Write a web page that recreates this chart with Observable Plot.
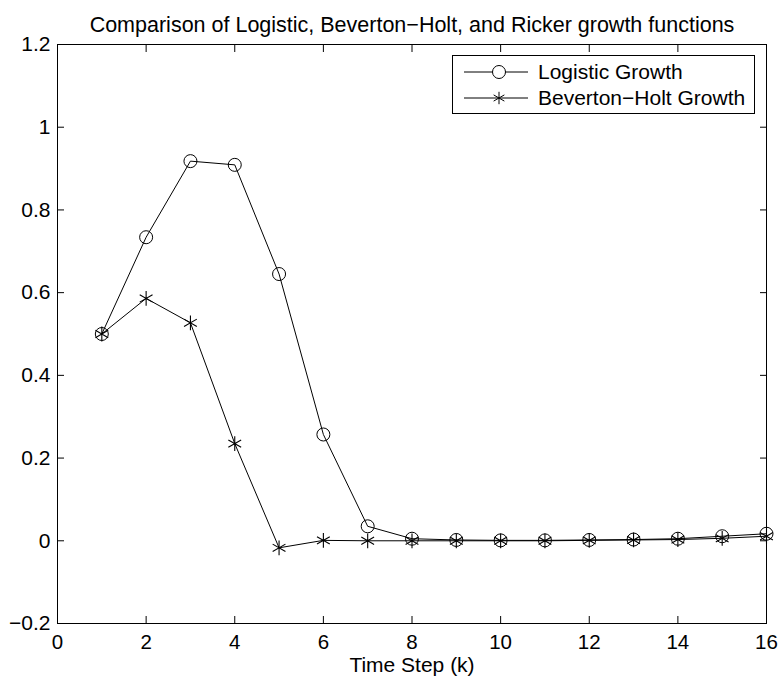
<!DOCTYPE html>
<html><head><meta charset="utf-8">
<script src="https://cdn.jsdelivr.net/npm/d3@7"></script>
<script src="https://cdn.jsdelivr.net/npm/@observablehq/plot@0.6"></script>
<style>
body{margin:0;background:#fff}
#wrap{position:relative;width:778px;height:679px;font-family:"Liberation Sans",Arial,Helvetica,sans-serif}
#legend{position:absolute;left:452px;top:55px}
</style>
</head><body><div id="wrap"></div>
<script>
const titleText = "Comparison of Logistic, Beverton\u2212Holt, and Ricker growth functions";
const xLabel = "Time Step (k)";
const seriesNames = ["Logistic Growth", "Beverton\u2212Holt Growth"];
const steps = [1, 2, 3, 4, 5, 6, 7, 8, 9, 10, 11, 12, 13, 14, 15, 16];
const logistic = [0.5, 0.734, 0.918, 0.909, 0.645, 0.257, 0.035, 0.005, 0.002, 0.001, 0.001, 0.002, 0.003, 0.005, 0.011, 0.017];
const bevertonHolt = [0.5, 0.586, 0.527, 0.235, -0.017, 0.001, 0.0, 0.0, 0.0, 0.0, 0.0, 0.001, 0.002, 0.003, 0.006, 0.011];
const xTicks = [0, 2, 4, 6, 8, 10, 12, 14, 16];
const yTicks = [-0.2, 0, 0.2, 0.4, 0.6, 0.8, 1, 1.2];
const yTickLabels = ["\u22120.2", "0", "0.2", "0.4", "0.6", "0.8", "1", "1.2"];

const logData = steps.map((k, i) => ({k, v: logistic[i], s: seriesNames[0]}));
const bhData = steps.map((k, i) => ({k, v: bevertonHolt[i], s: seriesNames[1]}));

const FONT = 21;
const chart = Plot.plot({
  width: 778, height: 679,
  marginTop: 44, marginBottom: 56, marginLeft: 57, marginRight: 12,
  style: {fontFamily: '"Liberation Sans", Arial, Helvetica, sans-serif', fontSize: FONT + "px", color: "black", background: "white", overflow: "visible"},
  x: {domain: [0, 16]},
  y: {domain: [-0.2, 1.2]},
  marks: [
    Plot.frame({stroke: "black", strokeWidth: 1}),
    Plot.axisX(xTicks, {anchor: "bottom", tickSize: -7, text: null, label: null}),
    Plot.axisX(xTicks, {anchor: "top", tickSize: -7, text: null, label: null}),
    Plot.axisY(yTicks, {anchor: "left", tickSize: -7, text: null, label: null}),
    Plot.axisY(yTicks, {anchor: "right", tickSize: -7, text: null, label: null}),
    Plot.axisX(xTicks, {anchor: "bottom", tickSize: 0, tickPadding: 11, label: null, fontSize: 20.5}),
    Plot.axisY(yTicks, {anchor: "left", tickSize: 0, tickPadding: 7, label: null, fontSize: FONT,
      tickFormat: (d) => yTickLabels[yTicks.indexOf(d)]}),
    Plot.text([xLabel], {frameAnchor: "bottom", dy: 48, fontSize: FONT, fill: "black"}),
    Plot.text([titleText], {frameAnchor: "top", dy: -28, fontSize: 21.5, fill: "black"}),
    Plot.line(logData, {x: "k", y: "v", stroke: "black", strokeWidth: 1}),
    Plot.dot(logData, {x: "k", y: "v", symbol: "circle", r: 6.5, stroke: "black", fill: "none", strokeWidth: 1}),
    Plot.line(bhData, {x: "k", y: "v", stroke: "black", strokeWidth: 1}),
    Plot.dot(bhData, {x: "k", y: "v", symbol: "asterisk", r: 7, stroke: "black", strokeWidth: 1.1})
  ]
});
document.getElementById("wrap").appendChild(chart);

// Legend
const lw = 303, lh = 59;
const legend = d3.create("svg").attr("id", "legend").attr("width", lw).attr("height", lh)
  .style("font-family", '"Liberation Sans", Arial, Helvetica, sans-serif').style("font-size", FONT + "px");
legend.append("rect").attr("x", 0.5).attr("y", 0.5).attr("width", lw - 1).attr("height", lh - 1)
  .attr("fill", "white").attr("stroke", "black");
const rows = [{name: seriesNames[0], sym: d3.symbolCircle}, {name: seriesNames[1], sym: d3.symbolAsterisk}];
rows.forEach((r, i) => {
  const cy = 17 + i * 26;
  const g = legend.append("g");
  g.append("line").attr("x1", 12).attr("x2", 76).attr("y1", cy).attr("y2", cy).attr("stroke", "black");
  g.append("path").attr("d", d3.symbol(r.sym, r.sym === d3.symbolCircle ? Math.PI * 6.5 * 6.5 : 3 * 6 * 6)())
    .attr("transform", `translate(47,${cy})`).attr("fill", r.sym === d3.symbolCircle ? "white" : "none").attr("stroke", "black");
  g.append("text").attr("x", 86).attr("y", cy).attr("dy", "0.35em").attr("fill", "black").text(r.name);
});
document.getElementById("wrap").appendChild(legend.node());
</script>
</body></html>
